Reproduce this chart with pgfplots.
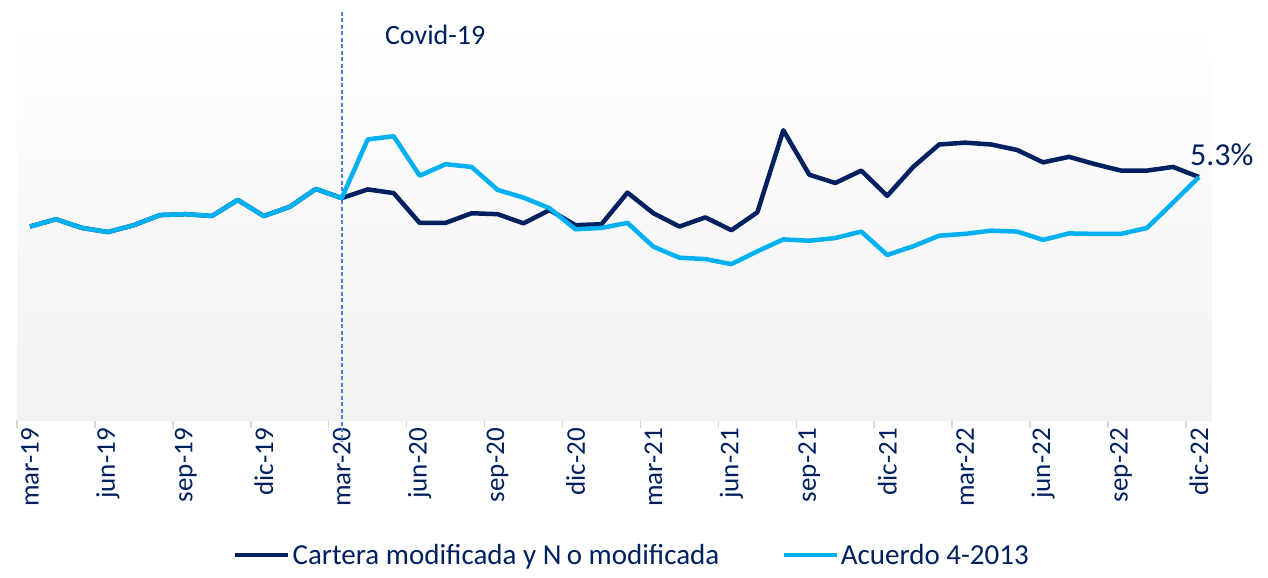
\documentclass[border=0pt]{standalone}
\usepackage{pgfplots}
\usepackage{pgfplotstable}
\pgfplotsset{compat=1.18}
\usepackage{fontspec}
\setmainfont{Carlito}
\definecolor{navy}{HTML}{002060}
\definecolor{lblue}{HTML}{00B0F0}
\definecolor{covidblue}{HTML}{4F7FD8}
\definecolor{axgray}{HTML}{D9D9D9}

\pgfplotstableread{
i dark light
0 4.22 4.22
1 4.38 4.38
2 4.19 4.19
3 4.10 4.10
4 4.25 4.25
5 4.47 4.47
6 4.49 4.49
7 4.45 4.45
8 4.80 4.80
9 4.45 4.45
10 4.65 4.65
11 5.04 5.04
12 4.84 4.84
13 5.03 6.12
14 4.95 6.19
15 4.30 5.33
16 4.30 5.58
17 4.51 5.52
18 4.49 5.02
19 4.29 4.85
20 4.58 4.62
21 4.25 4.16
22 4.27 4.19
23 4.96 4.30
24 4.51 3.78
25 4.22 3.54
26 4.42 3.51
27 4.14 3.40
28 4.53 3.68
29 6.32 3.94
30 5.35 3.91
31 5.17 3.97
32 5.44 4.11
33 4.89 3.60
34 5.52 3.79
35 6.01 4.02
36 6.05 4.06
37 6.01 4.13
38 5.89 4.11
39 5.62 3.93
40 5.74 4.07
41 5.58 4.06
42 5.44 4.06
43 5.44 4.19
44 5.52 4.74
45 5.30 5.30
}\datatable

\begin{document}
\begin{tikzpicture}
\begin{axis}[
  name=ax,
  scale only axis,
  width=1195bp, height=408bp,
  xmin=-0.5, xmax=45.5, ymin=0, ymax=8.9,
  axis y line=none,
  axis x line*=bottom,
  x axis line style={-, draw=axgray, line width=2bp},
  xtick={0,3,...,45},
  xticklabels={mar-19,jun-19,sep-19,dic-19,mar-20,jun-20,sep-20,dic-20,mar-21,jun-21,sep-21,dic-21,mar-22,jun-22,sep-22,dic-22},
  major tick length=0pt,
  minor xtick={-0.5,2.5,...,45.5},
  minor tick length=8bp,
  tick align=outside,
  minor tick style={draw=axgray, line width=1.5bp},
  xticklabel style={rotate=90, anchor=east, font=\fontsize{27bp}{30bp}\selectfont, text=navy, inner sep=0pt},
  xticklabel shift=8bp,
  clip=false,
  legend columns=2,
  legend style={at={(0.5146,-0.331)}, anchor=center, draw=none, fill=none,
    font=\fontsize{29bp}{32bp}\selectfont, text=navy,
    /tikz/every even column/.append style={column sep=60bp}},
  legend image code/.code={\draw[#1, line width=4.5bp] (0bp,0bp) -- (53bp,0bp);},
]
\fill[top color=white, bottom color=black!5, draw=none] (rel axis cs:0,0) rectangle (rel axis cs:1,1);
\addplot[covidblue, line width=2bp, dash pattern=on 4bp off 2.5bp, forget plot] coordinates {(12,8.9) (12,-0.48)};
\addplot[navy, line width=4.5bp, line join=round] table[x=i, y=dark] {\datatable};
\addlegendentry{Cartera modificada y N\kern0.18em o modificada}
\addplot[lblue, line width=4.5bp, line join=round] table[x=i, y=light] {\datatable};
\addlegendentry{Acuerdo 4-2013}
\node[anchor=west, inner sep=0pt, text=navy, font=\fontsize{28bp}{30bp}\selectfont] at (axis cs:13.66,8.40) {Covid-19};
\node[anchor=west, inner sep=0pt, text=navy, font=\fontsize{32bp}{34bp}\selectfont] at (axis cs:44.65,5.78) {5.3\%};
\end{axis}
\pgfresetboundingbox
\path (-17bp,-158bp) rectangle (1251bp,420bp);
\end{tikzpicture}
\end{document}
